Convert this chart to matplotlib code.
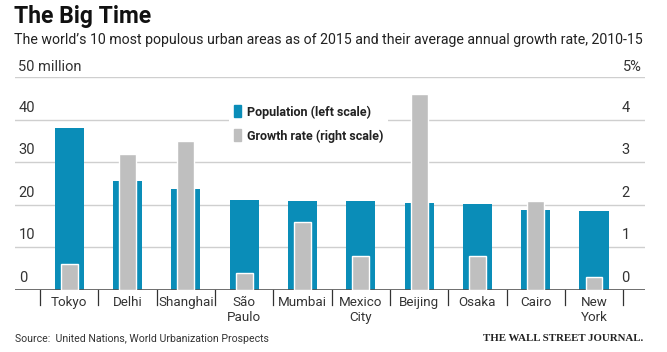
import matplotlib.pyplot as plt
from matplotlib.patches import Patch

plt.rcParams['font.family'] = ['Roboto', 'DejaVu Sans']

cities = ["Tokyo", "Delhi", "Shanghai", "São\nPaulo", "Mumbai", "Mexico\nCity",
          "Beijing", "Osaka", "Cairo", "New\nYork"]
population = [38.0, 25.7, 23.7, 21.1, 21.0, 21.0, 20.4, 20.2, 18.8, 18.6]   # million
growth = [0.6, 3.2, 3.5, 0.4, 1.6, 0.8, 4.6, 0.8, 2.1, 0.3]                   # percent
left_ticks = [0, 10, 20, 30, 40]
right_ticks = [0, 1, 2, 3, 4]

blue = "#0a8db8"
gray = "#bfbfbf"
grid = "#cfcfcf"
dark = "#333333"

fig = plt.figure(figsize=(6.67, 3.52), dpi=100)
ax = fig.add_axes([0.0225, 0.176, 0.945, 0.605])
ax2 = ax.twinx()

x = range(len(cities))
ax.bar(x, population, width=0.5, color=blue, zorder=2)
ax2.bar(x, growth, width=0.29, color=gray, edgecolor="white", linewidth=1, zorder=3)

ax.set_ylim(0, 50)
ax2.set_ylim(0, 5)
ax.set_xlim(-0.93, 9.88)

# grid lines
for v in left_ticks[1:] + [50]:
    ax.axhline(v, color=grid, lw=1, zorder=0)
ax.axhline(0, color="#555555", lw=1.2, zorder=4)

# tick labels drawn above the lines
for v in left_ticks:
    ax.text(0.006, v + 1.2, str(v), transform=ax.get_yaxis_transform(),
            ha="left", va="bottom", fontsize=10.5, color=dark)
for v in right_ticks:
    ax2.text(0.975, v + 0.12, str(v), transform=ax2.get_yaxis_transform(),
             ha="right", va="bottom", fontsize=10.5, color=dark)

for a in (ax, ax2):
    for s in a.spines.values():
        s.set_visible(False)
    a.set_yticks([])
ax.set_xticks([])
ax2.set_xticks([])

# category separators and labels
for i in range(len(cities) + 1):
    ax.plot([i - 0.5, i - 0.5], [0, -3.6], color=dark, lw=0.9, clip_on=False)
for i, c in enumerate(cities):
    ax.text(i, -1.4, c, ha="center", va="top", fontsize=9.6, color=dark,
            linespacing=1.2)

handles = [Patch(color=blue, label="Population (left scale)"),
           Patch(color=gray, label="Growth rate (right scale)")]
leg = ax2.legend(handles=handles, loc="upper left", bbox_to_anchor=(0.33, 0.92),
                 frameon=True, facecolor="white", edgecolor="none", framealpha=1,
                 fancybox=False, handlelength=0.5, handleheight=1.1,
                 handletextpad=0.5, labelspacing=0.85, borderpad=0.4,
                 prop={"weight": "bold", "size": 9})
for t in leg.get_texts():
    t.set_color("#222222")

fig.text(0.021, 0.985, "The Big Time", ha="left", va="top", fontsize=16.5,
         fontweight="bold", color="#111111")
fig.text(0.021, 0.905, "The world\u2019s 10 most populous urban areas as of 2015 "
         "and their average annual growth rate, 2010-15", ha="left", va="top",
         fontsize=10.2, color="#222222")
fig.text(0.027, 0.83, "50 million", ha="left", va="top", fontsize=10.5, color=dark)
fig.text(0.963, 0.83, "5%", ha="right", va="top", fontsize=10.5, color=dark)

fig.text(0.022, 0.05, "Source:  United Nations, World Urbanization Prospects",
         ha="left", va="top", fontsize=7.6, color="#333333")
fig.text(0.964, 0.05, "THE WALL STREET JOURNAL.", ha="right", va="top",
         fontsize=7.8, family=["Liberation Serif", "DejaVu Serif"],
         fontweight="bold", color="#222222")

fig.savefig("out.png", dpi=100)
